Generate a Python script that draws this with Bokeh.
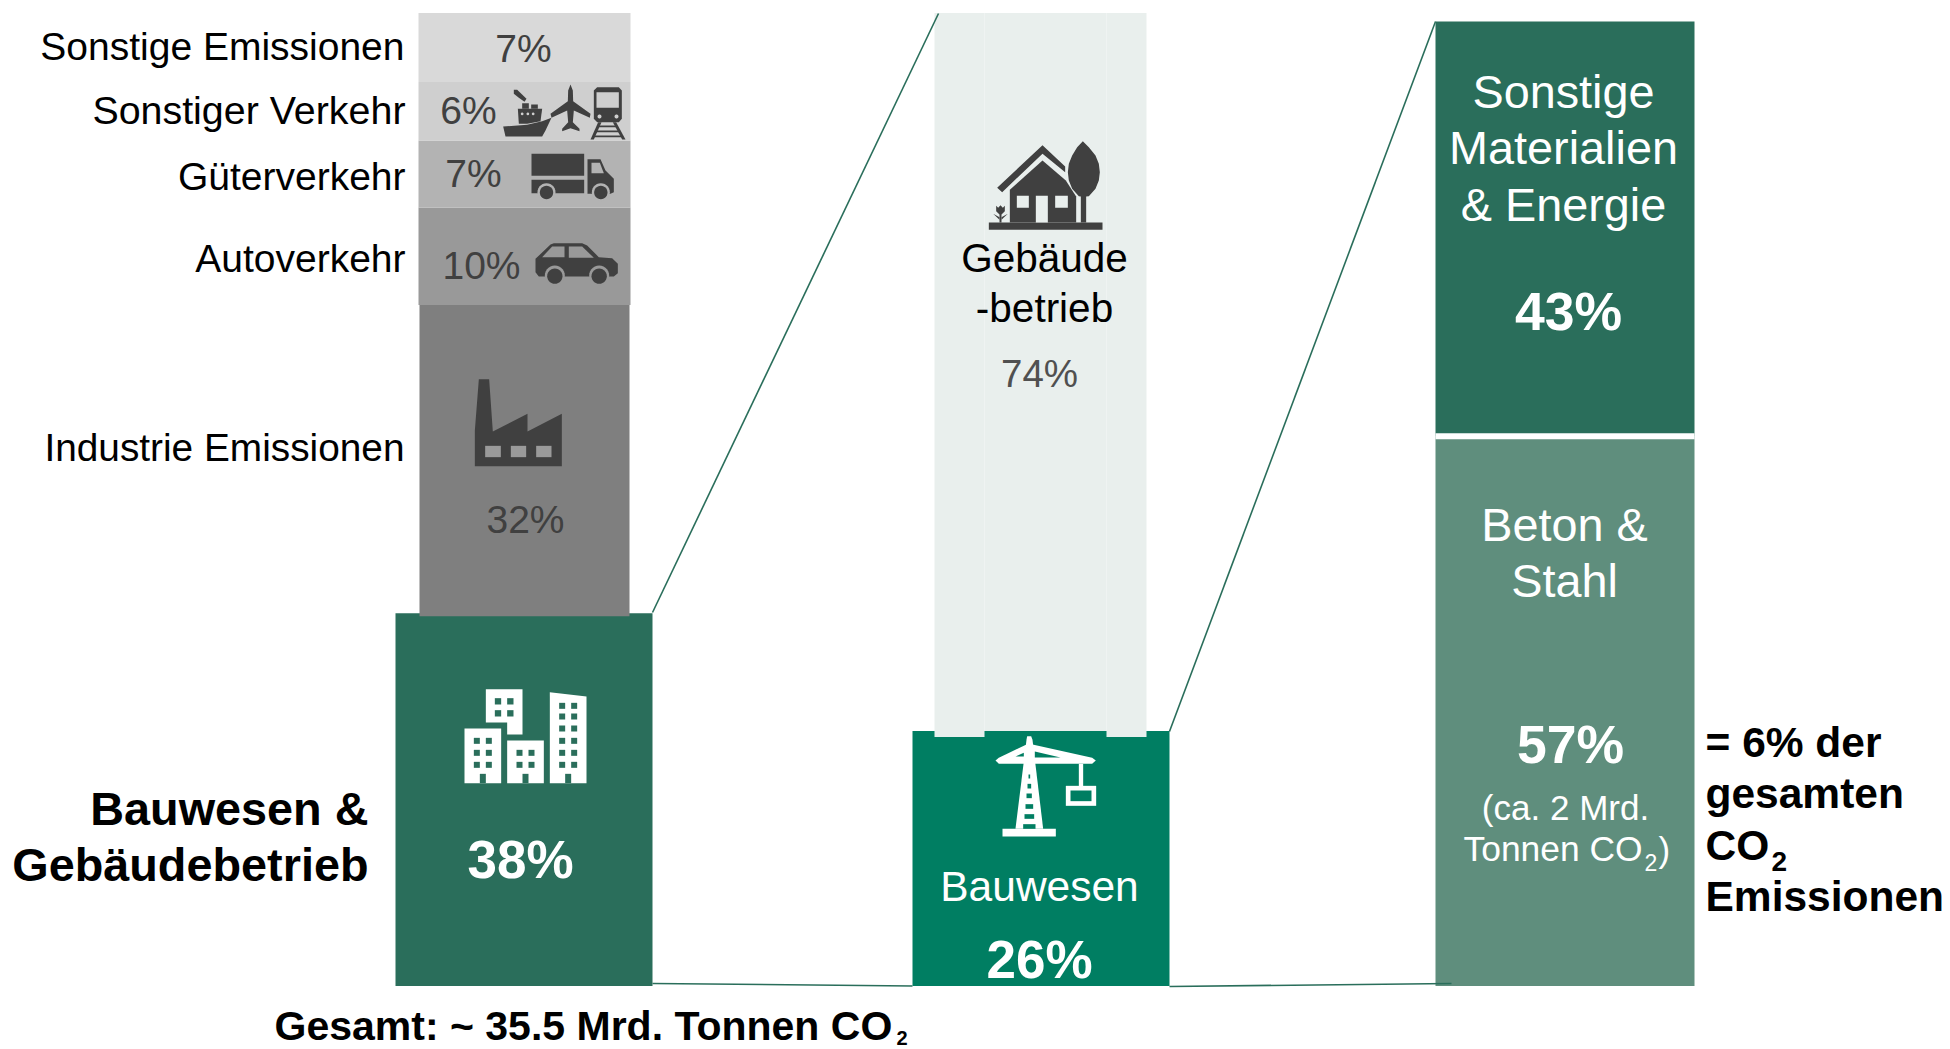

import math
from bokeh.plotting import figure
from bokeh.models import Range1d, ColumnDataSource
from bokeh.core.properties import value
from bokeh.embed import file_html
from bokeh.resources import INLINE

# ---- data -------------------------------------------------------------
total_names = ["Bauwesen & Gebäudebetrieb", "Industrie Emissionen", "Autoverkehr",
               "Güterverkehr", "Sonstiger Verkehr", "Sonstige Emissionen"]
total_labels = ["38%", "32%", "10%", "7%", "6%", "7%"]
total_heights = [38.3, 31.7, 10.0, 6.9, 6.0, 7.1]      # heights
total_colors = ["#2a6e5b", "#7f7f7f", "#999999", "#b3b3b3", "#cfcfcf", "#d9d9d9"]

built_names = ["Bauwesen", "Gebäudebetrieb"]
built_labels = ["26%", "74%"]
built_heights = [26.2, 73.8]
built_colors = ["#007e62", "#e9efed"]

material_names = ["Beton & Stahl", "Sonstige Materialien & Energie"]
material_labels = ["57%", "43%"]
material_heights = [57, 43]
material_colors = ["#5f8e7d", "#2a6e5b"]

# ---- page geometry ----------------------------------------------------
W, H, OX, OY = 1950, 1049, 0, 0
BASE_PX, TOP_PX, TOP2_PX = 985.5, 12.5, 21
k1 = (BASE_PX - TOP_PX) / 100
k2 = (BASE_PX - TOP2_PX) / 100

p = figure(width=W, height=H, output_backend="svg", toolbar_location=None,
           x_range=Range1d(OX, OX + W),
           y_range=Range1d((BASE_PX - (OY + H)) / k1, (BASE_PX - OY) / k1),
           min_border=0, outline_line_color=None, background_fill_color="white",
           border_fill_color="white")
p.xaxis.visible = False
p.yaxis.visible = False
p.grid.visible = False
p.extra_y_ranges = {
    "right": Range1d((BASE_PX - (OY + H)) / k2, (BASE_PX - OY) / k2),
    "px": Range1d(OY + H, OY),
}

def stack(heights):
    b, t, c = [], [], 0
    for h in heights:
        b.append(c); c += h; t.append(c)
    return b, t

# column 1
b, t = stack(total_heights)
lefts = [395, 419, 418, 418, 418, 418]
rights = [652, 629, 630, 630, 630, 630]
bot = [b[0], 38.0] + b[2:]
p.quad(left=lefts, right=rights, bottom=bot, top=t, fill_color=total_colors, line_color=None)

# column 2
b, t = stack(built_heights)
p.quad(left=[984], right=[1106], bottom=[b[1]], top=[t[1]], fill_color=built_colors[1], line_color=None)
p.quad(left=[912], right=[1169], bottom=[b[0]], top=[t[0]], fill_color=built_colors[0], line_color=None)
p.quad(left=[934, 1106], right=[984, 1146], bottom=[b[1] - 0.6] * 2, top=[t[1]] * 2,
       fill_color=built_colors[1], line_color=None)

# column 3
b, t = stack(material_heights)
p.quad(left=[1435, 1435], right=[1694, 1694], bottom=b, top=t, fill_color=material_colors,
       line_color=None, y_range_name="right")
p.segment([1435], [b[1]], [1694], [b[1]], line_color="white", line_width=6, y_range_name="right")

# connector lines
LINE = "#2a6e5b"
p.segment([652, 1169, 652, 1169], [612, 731, 983, 986], [938, 1435, 912, 1451], [13, 21, 985.5, 983],
          line_color=LINE, line_width=1.6, y_range_name="px")

# ---- icons ------------------------------------------------------------
px_x, px_y, px_c = [], [], []
def icon(x0, y0, sx, sy, color, *polys):
    for pts in polys:
        px_x.append([x0 + a / sx for a, _ in pts])
        px_y.append([y0 + c / sy for _, c in pts])
        px_c.append(color)
def R(x1, y1, x2, y2):
    return [(x1, y1), (x2, y1), (x2, y2), (x1, y2)]
def C(cx, cy, rx, ry=None, n=28):
    ry = ry or rx
    return [(cx + rx * math.cos(2 * math.pi * i / n), cy + ry * math.sin(2 * math.pi * i / n)) for i in range(n)]

DK = "#404040"
# factory
icon(380, 350, 3, 3, DK, [(283, 347), (283, 240), (295, 86), (326, 86), (337, 243), (441, 190), (441, 243), (544, 190), (544, 347)])
icon(380, 350, 3, 3, "#9a9a9a", R(314, 286, 361, 320), R(391, 286, 437, 320), R(467, 286, 513, 320))
# buildings
WH, G1 = "white", total_colors[0]
icon(380, 640, 3, 3, WH,
     [(316, 146), (426, 146), (426, 282), (380, 282), (380, 246), (316, 246)],
     R(252, 264, 362, 428), R(380, 300, 490, 428), [(508, 155), (618, 168), (618, 428), (508, 428)])
win = [R(343, 173, 362, 192), R(380, 173, 399, 192), R(343, 209, 362, 228), R(380, 209, 399, 228),
       R(298, 400, 316, 428), R(426, 400, 444, 428), R(554, 400, 572, 428)]
for y in (292, 328, 364):
    win += [R(280, y, 298, y + 18), R(316, y, 334, y + 18)]
for y in (328, 364):
    win += [R(408, y, 426, y + 18), R(444, y, 462, y + 18)]
for y in (187, 219, 255, 292, 328, 364):
    win += [R(536, y, 554, y + 18), R(572, y, 590, y + 18)]
icon(380, 640, 3, 3, G1, *win)
# house
LG = built_colors[1]
icon(900, 100, 3, 3, DK,
     R(265, 366, 606, 388),
     [(328, 366), (328, 268), (426, 180), (496, 240), (527, 288), (527, 366)],
     [(290, 262), (426, 134), (494, 198), (494, 215), (426, 160), (305, 275)],
     [(547, 122), (530, 140), (515, 165), (505, 190), (502, 215), (505, 240), (515, 265), (535, 287), (541, 288),
      (541, 366), (557, 366), (557, 288), (565, 287), (585, 265), (595, 240), (598, 215), (595, 190), (585, 165), (565, 140)],
     [(287, 316), (293, 322), (300, 314), (307, 322), (313, 316), (313, 332), (303, 342), (303, 366), (297, 366), (297, 342), (287, 332)],
     [(278, 340), (297, 350), (297, 358)], [(322, 340), (303, 350), (303, 358)])
icon(900, 100, 3, 3, LG, R(349, 286, 385, 322), R(406, 286, 442, 366), R(464, 286, 502, 322))
# crane
GR = built_colors[0]
icon(900, 700, 3, 3, WH,
     [(378, 118), (380, 107), (392, 107), (396, 118), (428, 385), (345, 385)],
     R(306, 385, 466, 408),
     [(285, 180), (295, 172), (378, 132), (396, 132), (575, 172), (586, 180), (575, 190), (295, 190)],
     R(535, 190, 548, 258), R(496, 256, 587, 316))
icon(900, 700, 3, 3, GR, R(510, 270, 573, 302),
     [(345, 168), (370, 157), (370, 168)], [(403, 153), (480, 171), (403, 171)],
     R(384, 222, 389, 234), R(381, 250, 392, 264), R(378, 279, 394, 293), R(375, 311, 398, 325),
     R(372, 341, 401, 355), R(368, 371, 405, 385))
# ship, plane, train
BAND6, BAND7, BAND10 = total_colors[4], total_colors[3], total_colors[2]
icon(490, 80, 3, 3, DK,
     [(38, 138), (110, 133), (155, 122), (183, 112), (165, 150), (155, 168), (45, 168)],
     [(82, 85), (155, 85), (150, 122), (110, 130), (85, 130)],
     R(95, 68, 115, 85), R(122, 72, 142, 85),
     [(70, 28), (80, 28), (108, 55), (102, 64), (85, 52), (70, 40)],
     [(240, 12), (247, 30), (248, 62), (300, 100), (298, 112), (250, 90), (247, 125), (267, 145), (267, 152),
      (240, 143), (215, 152), (215, 145), (233, 125), (230, 90), (183, 112), (180, 100), (232, 62), (233, 30)],
     [(310, 30), (320, 20), (385, 20), (394, 30), (394, 115), (385, 125), (320, 125), (310, 115)],
     [(323, 125), (333, 125), (310, 177), (300, 177)], [(367, 125), (377, 125), (405, 177), (395, 177)],
     R(322, 135, 380, 140), R(315, 150, 387, 155), R(308, 165, 395, 170))
icon(490, 80, 3, 3, BAND6, C(95, 100, 4), C(112, 100, 4), C(128, 100, 4),
     R(318, 35, 385, 82), C(327, 108, 6), C(378, 108, 6))
# truck
icon(490, 80, 3, 3, DK, R(123, 220, 281, 286), R(123, 298, 281, 338),
     [(291, 236), (330, 236), (345, 270), (370, 295), (370, 335), (360, 340), (291, 340)])
icon(490, 80, 3, 3, BAND7, [(303, 247), (328, 247), (340, 278), (303, 278)], C(168, 335, 27), C(331, 335, 27))
icon(490, 80, 3, 3, DK, C(168, 336, 20), C(331, 336, 20))
# car
icon(500, 220, 3, 3, DK,
     [(105, 115), (150, 72), (160, 68), (245, 68), (260, 75), (295, 110), (335, 113), (352, 130), (352, 158),
      (340, 168), (115, 168), (105, 155)])
icon(500, 220, 3, 3, BAND10,
     [(125, 110), (155, 78), (192, 78), (192, 110)], [(205, 78), (245, 78), (280, 112), (205, 112)],
     C(163, 165, 30), C(296, 165, 30))
icon(500, 220, 3, 3, DK, C(163, 167, 23), C(296, 167, 23))
p.patches("x", "y", fill_color="c", line_color=None, y_range_name="px",
          source=ColumnDataSource(dict(x=px_x, y=px_y, c=px_c)))

# ---- texts ------------------------------------------------------------
FONT = value("Liberation Sans")
BASE_FIX = 0.37   # the renderer's alphabetic baseline lies this share of the size too low
def T(s, x, y, size, color="black", align="left", bold=False):
    p.text([x], [y - BASE_FIX * size], text=[s], text_font=FONT, text_font_size=f"{size}px", text_color=color,
           text_align=align, text_baseline="alphabetic",
           text_font_style="bold" if bold else "normal", y_range_name="px")

T(total_names[5], 404, 60, 39, align="right")
T(total_names[4], 405, 124, 39.4, align="right")
T(total_names[3], 405, 190, 39, align="right")
T(total_names[2], 405, 272, 39, align="right")
T(total_names[1], 404, 461, 38.8, align="right")
T("Bauwesen &", 368, 826, 46.8, align="right", bold=True)
T("Gebäudebetrieb", 368, 882, 46.8, align="right", bold=True)
T("Gesamt: ~ 35.5 Mrd. Tonnen CO", 274, 1041, 41, bold=True)
T("2", 896, 1044.5, 20, bold=True)

T(total_labels[5], 523, 62, 39, DK, "center")
T(total_labels[4], 468, 124, 39, DK, "center")
T(total_labels[3], 473, 187, 39, DK, "center")
T(total_labels[2], 481, 279, 39, DK, "center")
T(total_labels[1], 525, 533, 39, DK, "center")
T(total_labels[0], 520, 879, 53, "white", "center", True)

T("Gebäude", 1044, 272, 40.5, align="center")
T("-betrieb", 1044, 322, 40.5, align="center")
T(built_labels[1], 1039, 387, 38.5, "#505050", "center")
T(built_names[0], 1039, 902, 42.5, "white", "center")
T(built_labels[0], 1039, 979, 53, "white", "center", True)

for s, y in zip(["Sonstige", "Materialien", "& Energie"], [109, 165, 222]):
    T(s, 1563, y, 46.8, "white", "center")
T(material_labels[1], 1568, 331, 53.5, "white", "center", True)
for s, y in zip(["Beton &", "Stahl"], [542, 598]):
    T(s, 1564, y, 46.8, "white", "center")
T(material_labels[0], 1570, 764, 53.5, "white", "center", True)
T("(ca. 2 Mrd.", 1565, 820, 35, "white", "center")
T("Tonnen CO", 1463, 862, 35.4, "white")
T("2", 1644, 871, 23, "white")
T(")", 1658, 862, 35, "white")

T("= 6% der", 1705, 758, 42.5, bold=True)
T("gesamten", 1705, 809, 42.5, bold=True)
T("CO", 1705, 861, 42.5, bold=True)
T("2", 1771, 871, 28, bold=True)
T("Emissionen", 1705, 912, 42.5, bold=True)

open("out.html", "w").write(file_html(p, INLINE))
